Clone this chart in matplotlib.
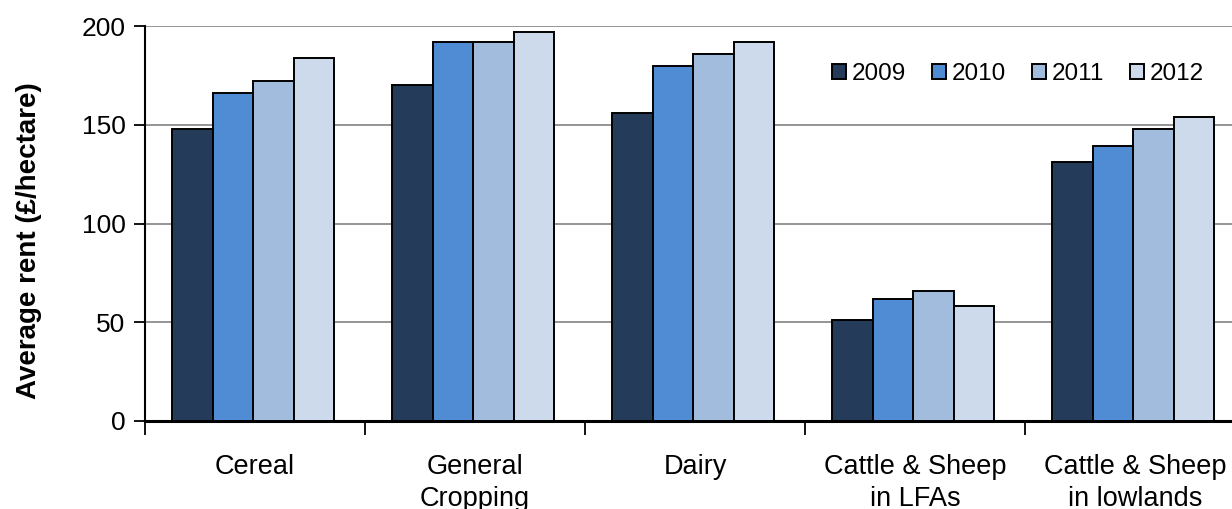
import numpy as np
import matplotlib
matplotlib.use("Agg")
import matplotlib.pyplot as plt

plt.rcParams['font.family'] = ['Liberation Sans', 'DejaVu Sans']

categories = ["Cereal", "General\nCropping", "Dairy", "Cattle & Sheep\nin LFAs", "Cattle & Sheep\nin lowlands"]
years = ["2009", "2010", "2011", "2012"]
rent_2009 = [148, 170, 156, 51, 131]
rent_2010 = [166, 192, 180, 62, 139]
rent_2011 = [172, 192, 186, 66, 148]
rent_2012 = [184, 197, 192, 58, 154]
y_ticks = [0, 50, 100, 150, 200]

series = [rent_2009, rent_2010, rent_2011, rent_2012]
colors = ["#243B5A", "#508CD4", "#A2BCDD", "#CDDAEB"]

fig = plt.figure(figsize=(12.32, 5.09), dpi=100)
ax = fig.add_axes([145 / 1232, 88 / 509, 1100 / 1232, 395 / 509])

x = np.arange(len(categories))
bar_w = 0.184
for i, (vals, col, yr) in enumerate(zip(series, colors, years)):
    offs = (i - 1.5) * bar_w - 0.008
    ax.bar(x + offs, vals, width=bar_w, color=col, edgecolor="black",
           linewidth=1.4, label=yr, zorder=3)

ax.set_xlim(-0.5, len(categories) - 0.5)
ax.set_ylim(0, 200)
ax.set_yticks(y_ticks)
ax.set_yticklabels([str(v) for v in y_ticks], fontsize=19)
ax.yaxis.grid(True, color="#8c8c8c", linewidth=1.3, zorder=0)
ax.set_axisbelow(True)

ax.set_xticks(np.arange(len(categories) + 1) - 0.5)
ax.set_xticklabels([])
ax.tick_params(axis="x", which="major", length=10, width=1.3, direction="out")
ax.set_xticks(x, minor=True)
ax.set_xticklabels(categories, minor=True, fontsize=19.5, linespacing=1.3)
ax.tick_params(axis="x", which="minor", length=0, pad=24)
ax.tick_params(axis="y", length=8, width=1.3, direction="out", pad=6)

for side in ("top", "right"):
    ax.spines[side].set_visible(False)
ax.spines["left"].set_linewidth(1.5)
ax.spines["bottom"].set_linewidth(2.2)

ax.set_ylabel("Average rent (£/hectare)", fontsize=20, fontweight="bold")
ax.yaxis.set_label_coords(-0.0936, 0.456)

fig.legend(loc="center left", bbox_to_anchor=(832 / 1232, (509 - 74) / 509),
           ncol=4, frameon=False, fontsize=17.5, handlelength=0.58,
           handleheight=0.54, handletextpad=0.25, columnspacing=1.05,
           borderpad=0, borderaxespad=0)

fig.savefig("out.png", dpi=100)
